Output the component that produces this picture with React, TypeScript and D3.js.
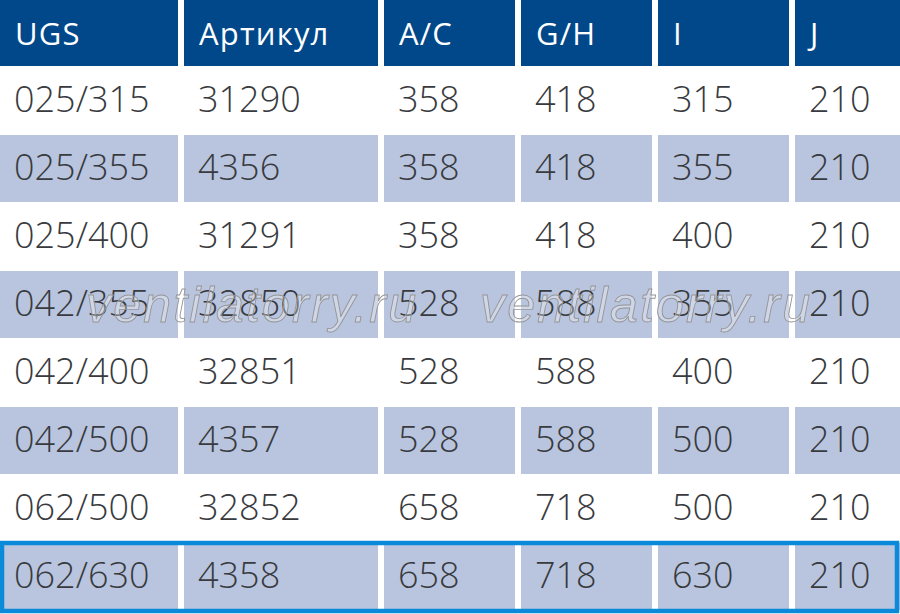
import { useEffect, useRef } from 'react';
import * as d3 from 'd3';

const headers = ['UGS', 'Артикул', 'A/C', 'G/H', 'I', 'J'];
const ugs = ['025/315', '025/355', '025/400', '042/355', '042/400', '042/500', '062/500', '062/630'];
const articles = ['31290', '4356', '31291', '32850', '32851', '4357', '32852', '4358'];
const acValues = [358, 358, 358, 528, 528, 528, 658, 658];
const ghValues = [418, 418, 418, 588, 588, 588, 718, 718];
const iValues = [315, 355, 400, 355, 400, 500, 500, 630];
const jValues = [210, 210, 210, 210, 210, 210, 210, 210];
const watermark = 'ventilatorry.ru';
const highlightedRow = 7;

const width = 900;
const height = 614;
const headerHeight = 66;
const colWidths = [178, 194, 131, 131, 131, 105];
const colGap = 6;

export default function App() {
  const svgRef = useRef<SVGSVGElement>(null);

  useEffect(() => {
    if (!svgRef.current) return;

    const columns = [ugs, articles, acValues, ghValues, iValues, jValues];
    const rows = ugs.map((_, r) => columns.map((c) => String(c[r])));

    const svg = d3.select(svgRef.current);
    svg.selectAll('*').remove();
    svg.attr('viewBox', `0 0 ${width} ${height}`);

    // column left edges from widths
    const colX = colWidths.map((_, i) => d3.sum(colWidths.slice(0, i)) + i * colGap);
    const x = d3.scaleOrdinal<string, number>().domain(headers).range(colX);
    const w = d3.scaleOrdinal<string, number>().domain(headers).range(colWidths);

    const y = d3
      .scaleBand<number>()
      .domain(d3.range(rows.length))
      .range([headerHeight, 610])
      .paddingInner(0);

    svg.append('rect').attr('width', width).attr('height', height).attr('fill', '#ffffff');

    // header
    const head = svg.append('g');
    head
      .selectAll('rect')
      .data(headers)
      .enter()
      .append('rect')
      .attr('x', (d) => x(d))
      .attr('y', 0)
      .attr('width', (d) => w(d))
      .attr('height', headerHeight)
      .attr('fill', '#00488a');
    head
      .selectAll('text')
      .data(headers)
      .enter()
      .append('text')
      .attr('x', (d) => x(d) + 15)
      .attr('y', 45)
      .attr('fill', '#ffffff')
      .style('font-family', '"Open Sans", sans-serif')
      .style('font-weight', 500)
      .style('font-size', '31px')
      .style('letter-spacing', '1.2px')
      .text((d) => d);

    // body rows
    const rowG = svg
      .selectAll('.row')
      .data(rows)
      .enter()
      .append('g')
      .attr('class', 'row')
      .attr('transform', (_, i) => `translate(0,${y(i)})`);

    rowG
      .filter((_, i) => i % 2 === 1)
      .selectAll('rect')
      .data(headers)
      .enter()
      .append('rect')
      .attr('x', (d) => x(d))
      .attr('y', 1)
      .attr('width', (d) => w(d))
      .attr('height', y.bandwidth() - 1)
      .attr('fill', '#b9c5de');

    rowG
      .selectAll('text')
      .data((d) => d.map((v, i) => ({ v, key: headers[i] })))
      .enter()
      .append('text')
      .attr('x', (d) => x(d.key) + 14)
      .attr('y', 46)
      .attr('fill', '#383a3e')
      .style('font-family', '"Open Sans", sans-serif')
      .style('font-weight', 300)
      .style('font-size', '36px')
      .text((d) => d.v);

    // watermark
    const wmY = (y(3) ?? 0) + 52;
    svg
      .selectAll('.wm')
      .data([86, 480])
      .enter()
      .append('text')
      .attr('class', 'wm')
      .attr('x', (d) => d)
      .attr('y', wmY)
      .attr('fill', 'rgba(255,255,255,0.3)')
      .attr('stroke', '#959595')
      .attr('stroke-width', 0.9)
      .style('font-family', '"Liberation Sans", sans-serif')
      .style('font-style', 'italic')
      .style('font-size', '50px')
      .style('letter-spacing', '2.2px')
      .text(watermark);

    // highlighted row border
    const hy = y(highlightedRow) ?? 0;
    svg
      .append('rect')
      .attr('x', 2)
      .attr('y', hy + 1)
      .attr('width', width - 5)
      .attr('height', y.bandwidth())
      .attr('fill', 'none')
      .attr('stroke', '#0a8ad8')
      .attr('stroke-width', 4.5);
  }, []);

  return (
    <svg
      ref={svgRef}
      width={width}
      height={height}
      style={{ position: 'absolute', left: 0, top: 0, display: 'block' }}
    />
  );
}
